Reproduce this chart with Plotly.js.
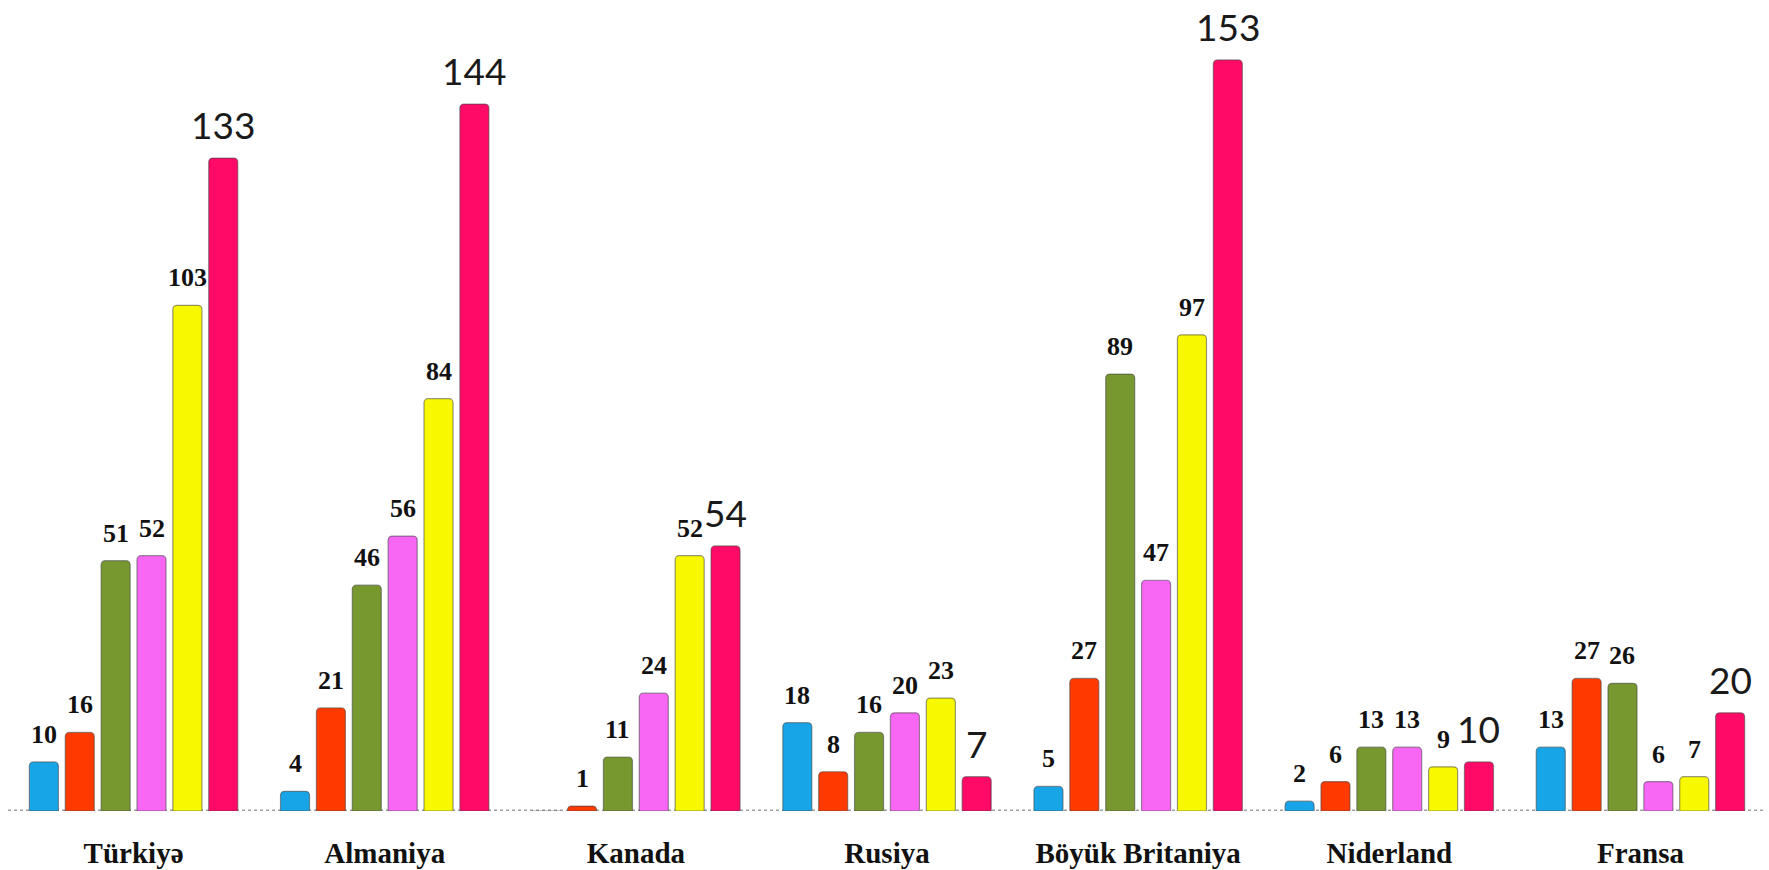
<!DOCTYPE html>
<html>
<head>
<meta charset="utf-8">
<script src="https://cdn.plot.ly/plotly-3.0.1.min.js"></script>
<style>html,body{margin:0;padding:0;background:#fff;}#chart{width:1769px;height:870px;}</style>
</head>
<body>
<div id="chart"></div>
<script>
// Categories (countries)
const categories = ["Türkiyə", "Almaniya", "Kanada", "Rusiya", "Böyük Britaniya", "Niderland", "Fransa"];
// Six series per country (left to right in each group)
const seriesBlue    = [10, 4, 0, 18, 5, 2, 13];
const seriesOrange  = [16, 21, 1, 8, 27, 6, 27];
const seriesGreen   = [51, 46, 11, 16, 89, 13, 26];
const seriesPink    = [52, 56, 24, 20, 47, 13, 6];
const seriesYellow  = [103, 84, 52, 23, 97, 9, 7];
const seriesMagenta = [133, 144, 54, 7, 153, 10, 20];
// Which labels are shown (Kanada blue has no label)
const showBlue = [true, true, false, true, true, true, true];

const series = [seriesBlue, seriesOrange, seriesGreen, seriesPink, seriesYellow, seriesMagenta];
const colors = ["#17A5E8", "#FF3A00", "#76982E", "#F866F4", "#F8F800", "#FF0A66"];
const names = ["1", "2", "3", "4", "5", "6"];

const W = 1769, H = 870;
const margin = {l: 8, r: 3, t: 0, b: 59};
const bargap = 0.143, bargroupgap = 0.19;

const traces = series.map((vals, i) => ({
  type: "bar",
  name: names[i],
  x: categories,
  y: vals,
  marker: {color: colors[i], line: {color: "rgba(70,70,70,0.55)", width: 1.2}},
  hoverinfo: "x+y"
}));

const plotW = W - margin.l - margin.r;
const slotPx = plotW / categories.length * (1 - bargap) / series.length;

const annotations = [];
series.forEach((vals, s) => {
  vals.forEach((v, c) => {
    if (s === 0 && !showBlue[c]) return;
    const last = s === series.length - 1;
    annotations.push({
      x: categories[c], y: v, xref: "x", yref: "y",
      xshift: (s - 2.5) * slotPx,
      yshift: last ? 9 : 11,
      yanchor: "bottom", xanchor: "center",
      showarrow: false,
      text: String(v),
      font: last ? {family: "Lato, 'Liberation Sans', sans-serif", size: 37, color: "#1a1a1a"}
                 : {family: "'Liberation Serif', 'Times New Roman', serif", size: 26, color: "#111", weight: "bold"}
    });
  });
});

const layout = {
  width: W, height: H,
  margin: margin,
  paper_bgcolor: "#fff", plot_bgcolor: "#fff",
  barmode: "group",
  bargap: bargap, bargroupgap: bargroupgap,
  barcornerradius: 4,
  showlegend: false,
  xaxis: {
    type: "category",
    showgrid: false, zeroline: false, showline: false,
    ticks: "", ticklabelstandoff: 22,
    tickfont: {family: "'Liberation Serif', 'Times New Roman', serif", size: 29, color: "#111", weight: "bold"}
  },
  yaxis: {
    range: [0, 165.2],
    showgrid: false, zeroline: false, showline: false,
    showticklabels: false, ticks: ""
  },
  shapes: [{
    type: "line", xref: "paper", yref: "y", x0: 0, x1: 1, y0: 0, y1: 0,
    line: {color: "#a0a0a0", width: 3, dash: "dot"}, layer: "below"
  }],
  annotations: annotations
};

Plotly.newPlot("chart", traces, layout, {displayModeBar: false, staticPlot: true});
</script>
</body>
</html>
